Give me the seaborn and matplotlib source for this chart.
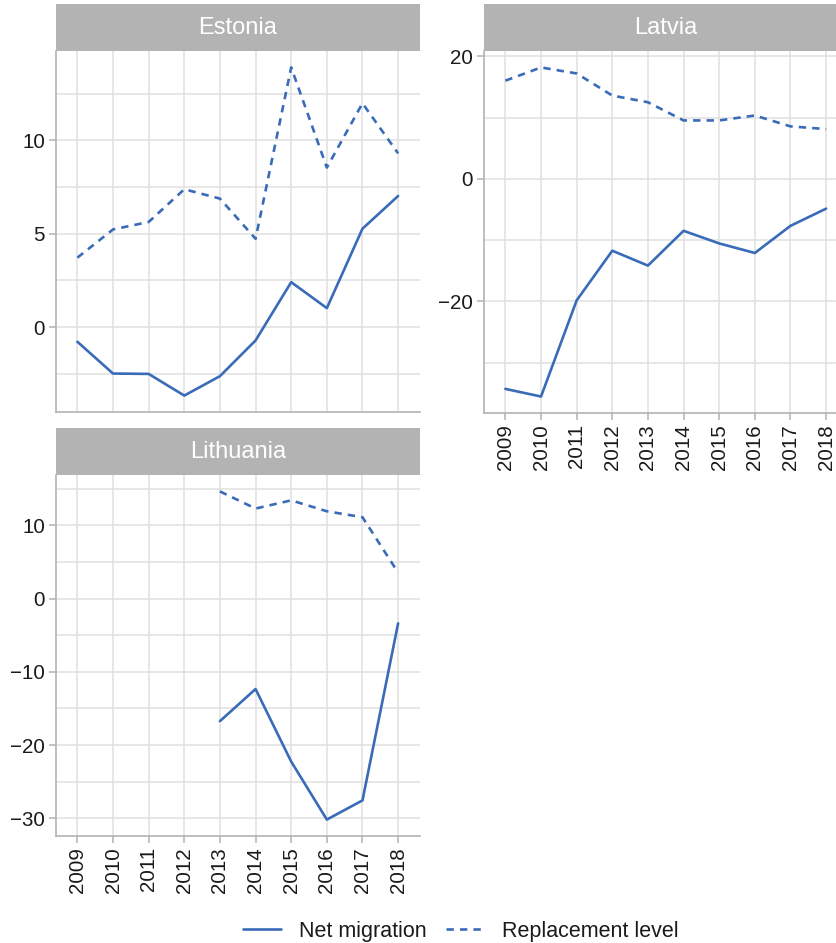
import numpy as np
import pandas as pd
import matplotlib
matplotlib.use("Agg")
import matplotlib.pyplot as plt
from matplotlib.ticker import MultipleLocator, FixedLocator
import seaborn as sns

# Net migration vs. replacement-level migration, per 1,000 population
years = [2009, 2010, 2011, 2012, 2013, 2014, 2015, 2016, 2017, 2018]

estonia_net = [-0.78, -2.48, -2.50, -3.66, -2.62, -0.71, 2.41, 1.02, 5.27, 7.02]
estonia_repl = [3.72, 5.23, 5.63, 7.38, 6.88, 4.73, 13.90, 8.54, 11.98, 9.30]

latvia_net = [-34.3, -35.55, -19.85, -11.74, -14.17, -8.49, -10.55, -12.11, -7.68, -4.87]
latvia_repl = [16.02, 18.18, 17.20, 13.59, 12.50, 9.53, 9.53, 10.34, 8.56, 8.12]

lithuania_years = [2013, 2014, 2015, 2016, 2017, 2018]
lithuania_net = [-16.73, -12.35, -22.25, -30.16, -27.54, -3.39]
lithuania_repl = [14.61, 12.27, 13.39, 11.90, 11.09, 3.53]

series_names = ["Net migration", "Replacement level"]
countries = ["Estonia", "Latvia", "Lithuania"]

frames = []
for country, yrs, net, repl in [
    ("Estonia", years, estonia_net, estonia_repl),
    ("Latvia", years, latvia_net, latvia_repl),
    ("Lithuania", lithuania_years, lithuania_net, lithuania_repl),
]:
    frames.append(pd.DataFrame({"country": country, "year": yrs,
                                "value": net, "series": series_names[0]}))
    frames.append(pd.DataFrame({"country": country, "year": yrs,
                                "value": repl, "series": series_names[1]}))
df = pd.concat(frames, ignore_index=True)

sns.set_theme(style="white")
plt.rcParams["font.family"] = ["Liberation Sans", "DejaVu Sans"]

LINE = "#3a6bb8"
FRAME = "#b3b3b3"
GRID = "#e0e0e0"
TEXT = "#1a1a1a"

W, H = 837, 943
fig = plt.figure(figsize=(W / 100, H / 100), dpi=100)


def px_axes(left, top, right, bottom):
    return fig.add_axes([left / W, 1 - bottom / H, (right - left) / W, (bottom - top) / H])


# panel boxes in pixels: (left, strip_top, axes_top, right, bottom)
panels = {
    "Estonia": (56, 4, 51, 419.5, 412),
    "Latvia": (484, 4, 51, 847.5, 413),
    "Lithuania": (56, 428, 475, 419.5, 836),
}
yticks = {
    "Estonia": ([0, 5, 10], 2.5),
    "Latvia": ([-20, 0, 20], 10),
    "Lithuania": ([-30, -20, -10, 0, 10], 5),
}
show_x = {"Estonia": False, "Latvia": True, "Lithuania": True}

dash_map = {"Net migration": "", "Replacement level": (2.8, 2.3)}
handles = labels = None

for country in countries:
    left, stop, atop, right, bottom = panels[country]
    ax = px_axes(left, atop, right, bottom)
    sub = df[df["country"] == country]
    sns.lineplot(data=sub, x="year", y="value", style="series",
                 style_order=series_names, dashes=dash_map,
                 color=LINE, linewidth=1.9, ax=ax, legend=True)
    h, l = ax.get_legend_handles_labels()
    if handles is None:
        handles, labels = h, l
    ax.get_legend().remove()

    vals = sub["value"].to_numpy()
    lo, hi = vals.min(), vals.max()
    pad = (hi - lo) * 0.05
    ax.set_ylim(lo - pad, hi + pad)
    ax.set_xlim(years[0] - 0.6, years[-1] + 0.6)

    major, minor_step = yticks[country]
    ax.yaxis.set_major_locator(FixedLocator(major))
    ax.yaxis.set_minor_locator(MultipleLocator(minor_step))
    ax.set_yticklabels([str(v).replace("-", "\u2212") for v in major])
    ax.xaxis.set_major_locator(FixedLocator(years))

    ax.set_axisbelow(True)
    ax.grid(True, which="major", axis="both", color=GRID, linewidth=1.1)
    ax.grid(True, which="minor", axis="y", color=GRID, linewidth=1.1)
    for side in ["top", "right"]:
        ax.spines[side].set_visible(False)
    for side in ["left", "bottom"]:
        ax.spines[side].set_color(FRAME)
        ax.spines[side].set_linewidth(1.2)
    ax.tick_params(axis="y", which="major", length=5, width=1.1, color=FRAME,
                   labelsize=14.8, labelcolor=TEXT, pad=3, left=True)
    ax.tick_params(axis="y", which="minor", length=0)
    if show_x[country]:
        ax.set_xticklabels([str(y) for y in years], rotation=90)
        ax.tick_params(axis="x", which="major", length=5, width=1.1, color=FRAME,
                       labelsize=14.8, labelcolor=TEXT, pad=3, bottom=True)
    else:
        ax.tick_params(axis="x", which="major", length=0, labelbottom=False)
    ax.set_xlabel("")
    ax.set_ylabel("")

    # facet strip
    sax = px_axes(left, stop, right, atop)
    sax.set_facecolor(FRAME)
    sax.set_xticks([])
    sax.set_yticks([])
    for s in sax.spines.values():
        s.set_visible(False)
    sax.text(0.5, 0.5, country, ha="center", va="center", color="white",
             fontsize=17, transform=sax.transAxes)

fig.legend(handles, labels, loc="center", bbox_to_anchor=(461 / W, 1 - 931 / H),
           ncol=2, frameon=False, fontsize=15.5, handlelength=1.75,
           columnspacing=0.9, handletextpad=0.85, labelcolor=TEXT)

fig.savefig("out.png", dpi=100, facecolor="white")
